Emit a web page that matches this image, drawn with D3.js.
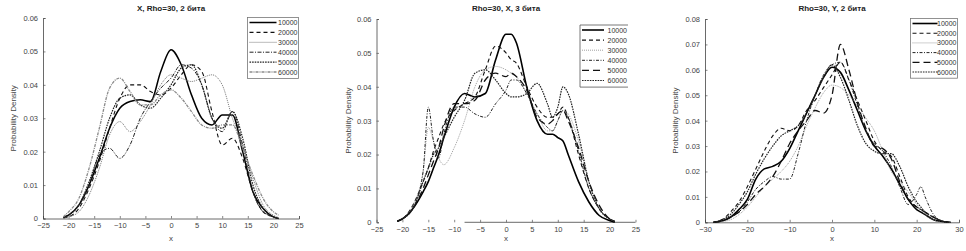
<!DOCTYPE html>
<html>
<head>
<meta charset="utf-8">
<script src="https://cdn.jsdelivr.net/npm/d3@7"></script>
<style>
  body { margin: 0; background: #fff; }
  svg text { font-family: "Liberation Sans", Arial, sans-serif; }
</style>
</head>
<body>
<div id="chart"></div>
<script>
// sample sizes shown in every legend
var legendLabels = ['10000', '20000', '30000', '40000', '50000', '60000']

// ---- panel 1 : X, Rho=30, 2 бита
var p1X = [-21, -20, -18, -16, -14, -12, -10, -8, -6, -4, -2, 0, 2, 4, 6, 8, 10, 12, 14, 16, 18, 20, 21]
var p1s10000 = [0.0003, 0.001, 0.004, 0.010, 0.018, 0.027, 0.033, 0.035, 0.0355, 0.035, 0.044, 0.0505, 0.046, 0.037, 0.030, 0.028, 0.031, 0.031, 0.020, 0.008, 0.003, 0.0005, 0]
var p1s20000 = [0.0002, 0.0005, 0.003, 0.009, 0.017, 0.027, 0.036, 0.040, 0.040, 0.038, 0.037, 0.039, 0.043, 0.046, 0.044, 0.032, 0.022, 0.024, 0.018, 0.008, 0.002, 0.0005, 0]
var p1s30000 = [0.0002, 0.0005, 0.002, 0.007, 0.015, 0.025, 0.029, 0.026, 0.029, 0.034, 0.040, 0.043, 0.042, 0.041, 0.042, 0.043, 0.040, 0.030, 0.022, 0.012, 0.004, 0.001, 0.0003]
var p1s40000 = [0.0003, 0.001, 0.004, 0.010, 0.019, 0.021, 0.018, 0.022, 0.030, 0.035, 0.039, 0.042, 0.046, 0.045, 0.040, 0.030, 0.026, 0.032, 0.022, 0.008, 0.002, 0.0005, 0]
var p1s50000 = [0.0003, 0.001, 0.004, 0.011, 0.020, 0.030, 0.036, 0.037, 0.034, 0.033, 0.036, 0.040, 0.045, 0.046, 0.040, 0.030, 0.027, 0.032, 0.024, 0.010, 0.003, 0.0005, 0]
var p1s60000 = [0.0005, 0.002, 0.006, 0.015, 0.027, 0.039, 0.042, 0.038, 0.034, 0.034, 0.037, 0.0385, 0.036, 0.032, 0.028, 0.027, 0.028, 0.028, 0.021, 0.013, 0.006, 0.002, 0.001]

// ---- panel 2 : Rho=30, X, 3 бита
var p2X = [-21, -20, -18, -16, -15, -14, -13, -12, -10, -8, -6, -4, -2, 0, 1, 2, 4, 6, 8, 9, 10, 11, 12, 14, 16, 18, 20, 21]
var p2s10000 = [0.0003, 0.001, 0.004, 0.009, 0.012, 0.016, 0.020, 0.025, 0.034, 0.038, 0.037, 0.038, 0.048, 0.0555, 0.0555, 0.053, 0.040, 0.030, 0.026, 0.026, 0.025, 0.024, 0.020, 0.012, 0.006, 0.002, 0.0005, 0]
var p2s20000 = [0.0003, 0.001, 0.005, 0.012, 0.016, 0.021, 0.025, 0.029, 0.033, 0.035, 0.037, 0.045, 0.052, 0.050, 0.048, 0.047, 0.040, 0.034, 0.031, 0.031, 0.032, 0.034, 0.031, 0.020, 0.010, 0.004, 0.001, 0.0003]
var p2s30000 = [0.0003, 0.001, 0.005, 0.015, 0.028, 0.024, 0.019, 0.017, 0.022, 0.030, 0.040, 0.045, 0.046, 0.045, 0.044, 0.043, 0.038, 0.032, 0.027, 0.027, 0.030, 0.033, 0.032, 0.024, 0.012, 0.004, 0.001, 0.0003]
var p2s40000 = [0.0003, 0.001, 0.004, 0.015, 0.034, 0.024, 0.019, 0.026, 0.034, 0.034, 0.032, 0.031, 0.035, 0.039, 0.042, 0.042, 0.038, 0.032, 0.028, 0.027, 0.030, 0.033, 0.031, 0.021, 0.010, 0.004, 0.001, 0.0003]
var p2s50000 = [0.0003, 0.001, 0.004, 0.010, 0.014, 0.018, 0.022, 0.028, 0.035, 0.035, 0.036, 0.042, 0.044, 0.043, 0.044, 0.043, 0.039, 0.031, 0.029, 0.030, 0.032, 0.033, 0.030, 0.022, 0.012, 0.005, 0.001, 0.0003]
var p2s60000 = [0.0003, 0.001, 0.004, 0.012, 0.016, 0.020, 0.022, 0.025, 0.031, 0.036, 0.044, 0.045, 0.042, 0.038, 0.037, 0.037, 0.038, 0.041, 0.035, 0.031, 0.034, 0.040, 0.038, 0.026, 0.012, 0.004, 0.001, 0.0003]

// ---- panel 3 : Rho=30, Y, 2 бита
var p3X = [-28, -26, -24, -22, -20, -18, -16, -14, -12, -10, -8, -6, -4, -2, 0, 2, 4, 6, 8, 10, 12, 14, 16, 18, 20, 21, 22, 24, 26, 28]
var p3s10000 = [0, 0.0005, 0.002, 0.005, 0.009, 0.017, 0.021, 0.022, 0.024, 0.029, 0.036, 0.043, 0.050, 0.057, 0.061, 0.059, 0.052, 0.044, 0.036, 0.030, 0.026, 0.021, 0.015, 0.009, 0.005, 0.004, 0.003, 0.001, 0.0003, 0]
var p3s20000 = [0, 0.001, 0.004, 0.008, 0.014, 0.021, 0.028, 0.034, 0.037, 0.036, 0.038, 0.044, 0.048, 0.053, 0.058, 0.063, 0.056, 0.048, 0.040, 0.032, 0.028, 0.026, 0.018, 0.010, 0.006, 0.005, 0.004, 0.002, 0.0005, 0]
var p3s30000 = [0, 0.0003, 0.001, 0.003, 0.006, 0.010, 0.014, 0.017, 0.020, 0.024, 0.030, 0.038, 0.045, 0.051, 0.054, 0.053, 0.050, 0.046, 0.041, 0.036, 0.028, 0.020, 0.016, 0.012, 0.007, 0.005, 0.003, 0.001, 0, 0]
var p3s40000 = [0, 0.001, 0.002, 0.004, 0.008, 0.013, 0.016, 0.018, 0.017, 0.017, 0.027, 0.040, 0.050, 0.058, 0.062, 0.063, 0.056, 0.046, 0.036, 0.031, 0.028, 0.022, 0.014, 0.007, 0.011, 0.014, 0.010, 0.003, 0.0005, 0]
var p3s50000 = [0, 0.0005, 0.002, 0.004, 0.007, 0.011, 0.014, 0.018, 0.024, 0.031, 0.036, 0.040, 0.044, 0.043, 0.050, 0.070, 0.060, 0.047, 0.037, 0.030, 0.029, 0.025, 0.016, 0.009, 0.006, 0.005, 0.004, 0.002, 0.0005, 0]
var p3s60000 = [0, 0.001, 0.003, 0.007, 0.012, 0.019, 0.025, 0.030, 0.034, 0.036, 0.038, 0.043, 0.050, 0.057, 0.062, 0.057, 0.048, 0.038, 0.031, 0.028, 0.027, 0.027, 0.022, 0.014, 0.008, 0.006, 0.004, 0.002, 0.0005, 0]

// tick labels
var p1xTicks = [-25, -20, -15, -10, -5, 0, 5, 10, 15, 20, 25]
var p1yTicks = [0, 0.01, 0.02, 0.03, 0.04, 0.05, 0.06]
var p3xTicks = [-30, -20, -10, 0, 10, 20, 30]
var p3yTicks = [0, 0.01, 0.02, 0.03, 0.04, 0.05, 0.06, 0.07, 0.08]

var svg = d3.select('#chart').append('svg')
  .attr('width', 966).attr('height', 251)

// panel layout (pixel boxes of each axes)
var panels = [
  {title: 'X, Rho=30, 2 бита', x: p1X, series: [p1s10000, p1s20000, p1s30000, p1s40000, p1s50000, p1s60000],
   xDomain: [-25, 25], yDomain: [0, 0.06], xTicks: p1xTicks, yTicks: p1yTicks,
   left: 43, right: 299, top: 18, bottom: 218.5, ylabX: 16,
   legend: {x: 247.5, y: 17.5, w: 51, row: 9.9, lineLen: 27}, style: 'a'},
  {title: 'Rho=30, X, 3 бита', x: p2X, series: [p2s10000, p2s20000, p2s30000, p2s40000, p2s50000, p2s60000],
   xDomain: [-25, 25], yDomain: [0, 0.06], xTicks: p1xTicks, yTicks: p1yTicks,
   left: 376.5, right: 635.5, top: 19, bottom: 222.3, ylabX: 351, partialAxis: -8,
   legend: {x: 580, y: 25, w: 48, row: 10.1, lineLen: 22, open: true}, style: 'b'},
  {title: 'Rho=30, Y, 2 бита', x: p3X, series: [p3s10000, p3s20000, p3s30000, p3s40000, p3s50000, p3s60000],
   xDomain: [-30, 30], yDomain: [0, 0.08], xTicks: p3xTicks, yTicks: p3yTicks,
   left: 705, right: 959, top: 19, bottom: 222.3, ylabX: 678,
   legend: {x: 910.5, y: 18.5, w: 47, row: 9.7, lineLen: 25}, style: 'b'}
]

// line styles per series, two variants
var styles = {
  a: [
    {c: '#000', w: 1.5, d: null},
    {c: '#111', w: 1.1, d: '4,3'},
    {c: '#777', w: 1, d: '1,1'},
    {c: '#222', w: 1, d: '4,1.5,1,1.5'},
    {c: '#222', w: 1.2, d: '1.6,1'},
    {c: '#8a8a8a', w: 1.3, d: '3,1,1,1'}
  ],
  b: [
    {c: '#000', w: 1.6, d: null},
    {c: '#111', w: 1.1, d: '4,3'},
    {c: '#888', w: 0.8, d: '1,1'},
    {c: '#222', w: 1, d: '3,1.5,1,1.5'},
    {c: '#111', w: 1.3, d: '7,4'},
    {c: '#222', w: 1.2, d: '1.6,1'}
  ]
}

panels.forEach(function(p) {
  var x = d3.scaleLinear().domain(p.xDomain).range([p.left, p.right])
  var y = d3.scaleLinear().domain(p.yDomain).range([p.bottom, p.top])
  var g = svg.append('g')
  var st = styles[p.style]

  //title
  g.append('text')
    .attr('x', (p.left + p.right) / 2)
    .attr('y', 11)
    .attr('text-anchor', 'middle')
    .attr('font-size', '8px')
    .attr('font-weight', 'bold')
    .attr('fill', '#222')
    .text(p.title)

  //x axis, ticks pointing inwards
  var xa = g.append('g')
    .attr('transform', 'translate(0,' + p.bottom + ')')
    .call(d3.axisBottom(x).tickValues(p.xTicks).tickSize(-2.5).tickPadding(4)
      .tickFormat(d3.format('d')))
  if (p.partialAxis != null) {
    xa.select('.domain').attr('d', 'M' + x(p.partialAxis) + ',0H' + x(p.xDomain[1]))
  }

  //y axis
  g.append('g')
    .attr('transform', 'translate(' + p.left + ',0)')
    .call(d3.axisLeft(y).tickValues(p.yTicks).tickSize(-2.5).tickPadding(5)
      .tickFormat(function(d) { return d === 0 ? '0' : d3.format('.2f')(d) }))

  g.selectAll('.domain').attr('stroke', '#444').attr('stroke-width', 0.8)
  g.selectAll('.tick line').attr('stroke', '#555').attr('stroke-width', 0.7)
  g.selectAll('.tick text').attr('font-size', '7.5px').attr('fill', '#444')
    .attr('font-family', '"Liberation Sans", Arial, sans-serif')

  //axis labels
  g.append('text')
    .attr('x', (p.left + p.right) / 2)
    .attr('y', 241)
    .attr('text-anchor', 'middle')
    .attr('font-size', '8px')
    .attr('fill', '#444')
    .text('x')
  g.append('text')
    .attr('transform', 'translate(' + p.ylabX + ',' + ((p.top + p.bottom) / 2) + ') rotate(-90)')
    .attr('text-anchor', 'middle')
    .attr('font-size', '8px')
    .attr('fill', '#444')
    .text('Probability Density')

  //density curves
  var line = d3.line()
    .x(function(d) { return x(d[0]) })
    .y(function(d) { return y(d[1]) })
    .curve(d3.curveMonotoneX)

  p.series.forEach(function(vals, i) {
    var pts = p.x.map(function(v, j) { return [v, vals[j]] })
    g.append('path')
      .datum(pts)
      .attr('d', line)
      .attr('fill', 'none')
      .attr('stroke', st[i].c)
      .attr('stroke-width', st[i].w)
      .attr('stroke-dasharray', st[i].d)
  })

  //legend
  var L = p.legend
  var lg = g.append('g').attr('transform', 'translate(' + L.x + ',' + L.y + ')')
  var lh = L.row * 6 + 1.5
  lg.append('rect')
    .attr('width', L.w).attr('height', lh)
    .attr('fill', '#fff')
    .attr('stroke', L.open ? 'none' : '#777')
    .attr('stroke-width', 0.8)
  if (L.open) {
    lg.append('path')
      .attr('d', 'M' + L.w + ',0H0V' + lh + 'H' + L.w)
      .attr('fill', 'none').attr('stroke', '#555').attr('stroke-width', 0.8)
  }
  legendLabels.forEach(function(lab, i) {
    var yy = 5 + i * L.row
    lg.append('line')
      .attr('x1', 2).attr('x2', 2 + L.lineLen)
      .attr('y1', yy).attr('y2', yy)
      .attr('stroke', st[i].c)
      .attr('stroke-width', st[i].w)
      .attr('stroke-dasharray', st[i].d)
    lg.append('text')
      .attr('x', L.w - 1)
      .attr('y', yy + 2.5)
      .attr('text-anchor', 'end')
      .attr('font-size', '7px')
      .attr('fill', '#333')
      .text(lab)
  })
})
</script>
</body>
</html>
